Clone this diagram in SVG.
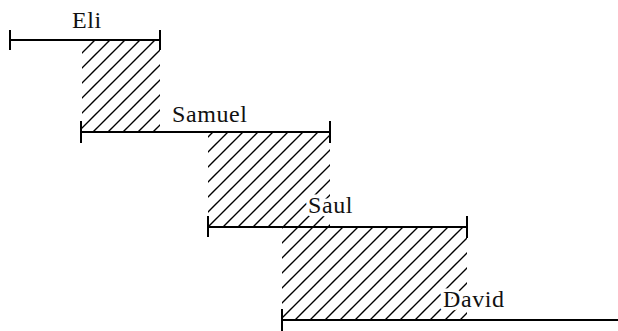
<svg xmlns="http://www.w3.org/2000/svg" width="618" height="331" viewBox="0 0 618 331">
<style>
.bar{stroke:#000;stroke-width:2;fill:none;stroke-linecap:square}
.lbl{font-family:"Liberation Serif","Times New Roman",serif;font-size:24px;letter-spacing:0.6px;fill:#111;stroke:#fff;stroke-width:7;paint-order:stroke;stroke-linejoin:round}
.hatch{fill:url(#h);stroke:none}
</style>
<defs>
<pattern id="h" patternUnits="userSpaceOnUse" width="15" height="15">
<path d="M-2,17 L17,-2 M-2,2 L2,-2 M13,17 L17,13" stroke="#000" stroke-width="1.4"/>
</pattern>
</defs>
<rect width="618" height="331" fill="#fff"/>
<g id="overlaps">
<rect class="hatch" x="82" y="41" width="78" height="91"/>
<rect class="hatch" x="208" y="133" width="122" height="94"/>
<rect class="hatch" x="282" y="228" width="185" height="92"/>
</g>
<g id="eli">
<path class="bar" d="M10,40 H160 M10,31 V49 M160,31 V49"/>
<text class="lbl" x="87" y="28" text-anchor="middle">Eli</text>
</g>
<g id="samuel">
<path class="bar" d="M81,132 H330 M81,122 V142 M330,122 V142"/>
<text class="lbl" x="172" y="122">Samuel</text>
</g>
<g id="saul">
<path class="bar" d="M208,227 H467 M208,217 V236 M467,217 V237"/>
<text class="lbl" x="308" y="213">Saul</text>
</g>
<g id="david">
<path class="bar" d="M282,320 H618 M282,310 V330"/>
<text class="lbl" x="443" y="307">David</text>
</g>
</svg>
